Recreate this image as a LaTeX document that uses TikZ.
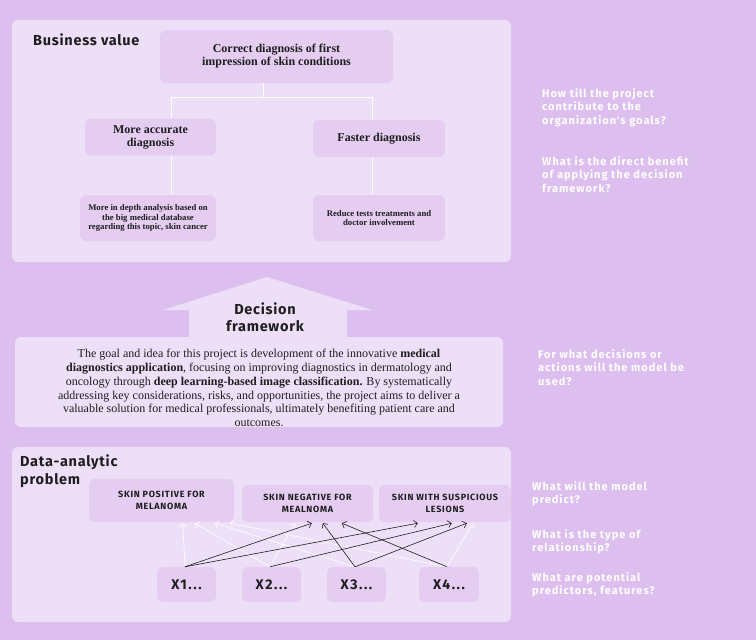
\documentclass[tikz,border=0pt]{standalone}
\usepackage{fontspec}
\setmainfont{Liberation Serif}
\newfontfamily\headfont{Fira Sans}[LetterSpace=5]
\newfontfamily\questfont{Fira Sans}[LetterSpace=9]
\newfontfamily\capfont{Fira Sans}[LetterSpace=8]
\newfontfamily\xfont{Fira Sans}[LetterSpace=11]
\usetikzlibrary{arrows.meta}
\definecolor{bgc}{RGB}{220,191,238}
\definecolor{panelc}{RGB}{238,223,248}
\definecolor{boxc}{RGB}{229,205,242}
\definecolor{inkc}{RGB}{30,30,30}
\tikzset{
  panel/.style={fill=panelc, draw=none, rounded corners=6pt},
  ibox/.style={fill=boxc, draw=none, rounded corners=6pt, inner sep=0pt, align=center, text=inkc},
  serifb/.style={font=\fontsize{12}{13}\selectfont\bfseries},
  serifs/.style={font=\fontsize{8.7}{9.5}\selectfont\bfseries},
  headt/.style={font=\headfont\fontsize{14.5}{17.5}\selectfont\bfseries, text=inkc, inner sep=0pt, align=left},
  capt/.style={font=\capfont\fontsize{9}{11.5}\selectfont\bfseries},
  xlab/.style={font=\xfont\fontsize{14}{15}\selectfont\bfseries},
  quest/.style={font=\questfont\fontsize{11}{13.5}\selectfont\bfseries, text=white, inner sep=0pt, align=left, anchor=north west},
  conn/.style={draw=white, line width=0.6pt},
  warr/.style={draw=white, line width=0.6pt, -{Straight Barb[length=3.5pt,width=7pt]}},
  barr/.style={draw=inkc, line width=0.6pt, -{Straight Barb[length=3.5pt,width=7pt]}},
}
\begin{document}
\begin{tikzpicture}[x=1pt,y=-1pt]
\useasboundingbox (0,0) rectangle (756,640);
\fill[bgc] (0,0) rectangle (756,640);

% ---------- Business value panel
\path[panel] (12,20) rectangle (511,262);
\node[headt, anchor=west] (bvt) at (33,40) {Business value};
\node[ibox, serifb, minimum width=233pt, minimum height=53pt] (cd) at (276.5,56.5)
  {Correct diagnosis of first\\impression of skin conditions};
\node[ibox, serifb, minimum width=131pt, minimum height=37pt] (acc) at (150.5,137)
  {More accurate\\diagnosis};
\node[ibox, serifb, minimum width=132pt, minimum height=37pt] (fast) at (379,138.5)
  {Faster diagnosis};
\node[ibox, serifs, minimum width=136pt, minimum height=46pt] (ad) at (148,218)
  {More in depth analysis based on\\the big medical database\\regarding this topic, skin cancer};
\node[ibox, serifs, minimum width=132pt, minimum height=46pt] (rd) at (379,218)
  {Reduce tests treatments and\\doctor involvement};
\draw[conn] ([xshift=-13pt]cd.south) -- ++(0,14) coordinate (jn);
\draw[conn] ([xshift=20.5pt]acc.north) |- (jn) -| ([xshift=-7pt]fast.north);
\draw[conn] ([xshift=20.5pt]acc.south) -- ([xshift=23pt]ad.north);
\draw[conn] ([xshift=-7pt]fast.south) -- ([xshift=-7pt]rd.north);

% ---------- Decision framework
\fill[panelc] (163,310) -- (267,277) -- (372,310) -- (347,310) -- (347,340)
  -- (189,340) -- (189,310) -- cycle;
\path[panel] (15,337) rectangle (503,427);
\node[headt, align=center, anchor=center] (dft) at (265,317) {Decision\\framework};
\node[text=inkc, align=center, inner sep=0pt, font=\fontsize{12}{13.8}\selectfont] (desc) at (259,388)
  {The goal and idea for this project is development of the innovative \textbf{medical}\\
   \textbf{diagnostics application}, focusing on improving diagnostics in dermatology and\\
   oncology through \textbf{deep learning-based image classification.} By systematically\\
   addressing key considerations, risks, and opportunities, the project aims to deliver a\\
   valuable solution for medical professionals, ultimately benefiting patient care and\\
   outcomes.};

% ---------- Data-analytic problem
\path[panel] (12,447) rectangle (511,622);
\node[headt, anchor=north west] (dat) at (20,455) {Data-analytic\\problem};
\node[ibox, capt, minimum width=145pt, minimum height=43pt] (pos) at (161.5,500.5)
  {SKIN POSITIVE FOR\\MELANOMA};
\node[ibox, capt, minimum width=131pt, minimum height=37pt] (neg) at (307.5,503.5)
  {SKIN NEGATIVE FOR\\MEALNOMA};
\node[ibox, capt, minimum width=132pt, minimum height=37pt] (sus) at (445,503.5)
  {SKIN WITH SUSPICIOUS\\LESIONS};
\node[ibox, xlab, minimum width=59pt, minimum height=35pt] (x1) at (186.5,584.5) {X1...};
\node[ibox, xlab, minimum width=59pt, minimum height=35pt] (x2) at (271.5,584.5) {X2...};
\node[ibox, xlab, minimum width=59pt, minimum height=35pt] (x3) at (356.5,584.5) {X3...};
\node[ibox, xlab, minimum width=60pt, minimum height=35pt] (x4) at (449,584.5) {X4...};

% white arrows
\draw[warr] ([xshift=-1.5pt]x1.north) -- ([xshift=94pt,yshift=-1pt]pos.south west);
\draw[warr] ([xshift=-1.5pt]x2.north) -- ([xshift=106pt,yshift=-1pt]pos.south west);
\draw[warr] ([xshift=-1.5pt]x3.north) -- ([xshift=126pt,yshift=-1pt]pos.south west);
\draw[warr] ([xshift=-2pt]x4.north) -- ([xshift=141pt,yshift=-1pt]pos.south west);
\draw[warr] ([xshift=-1.5pt]x2.north) -- ([xshift=53pt,yshift=-1pt]neg.south west);
\draw[warr] ([xshift=-2pt]x4.north) -- ([xshift=94pt,yshift=-1pt]sus.south west);
% black arrows
\draw[barr] ([xshift=-1.5pt]x1.north) -- ([xshift=70pt,yshift=-1pt]neg.south west);
\draw[barr] ([xshift=-1.5pt]x1.north) -- ([xshift=39pt,yshift=-1pt]sus.south west);
\draw[barr] ([xshift=-1.5pt]x2.north) -- ([xshift=73pt,yshift=-1pt]sus.south west);
\draw[barr] ([xshift=-1.5pt]x3.north) -- ([xshift=81pt,yshift=-1pt]neg.south west);
\draw[barr] ([xshift=-1.5pt]x3.north) -- ([xshift=88pt,yshift=-1pt]sus.south west);
\draw[barr] ([xshift=-2pt]x4.north) -- ([xshift=100pt,yshift=-1pt]neg.south west);

% ---------- questions
\node[quest] (q1) at (542,88) {How till the project\\contribute to the\\organization's goals?};
\node[quest] (q2) at (542,156) {What is the direct benefit\\of applying the decision\\framework?};
\node[quest] (q3) at (538,349) {For what decisions or\\actions will the model be\\used?};
\node[quest] (q4) at (532,481) {What will the model\\predict?};
\node[quest] (q5) at (532,529) {What is the type of\\relationship?};
\node[quest] (q6) at (532,572) {What are potential\\predictors, features?};
\end{tikzpicture}
\end{document}
